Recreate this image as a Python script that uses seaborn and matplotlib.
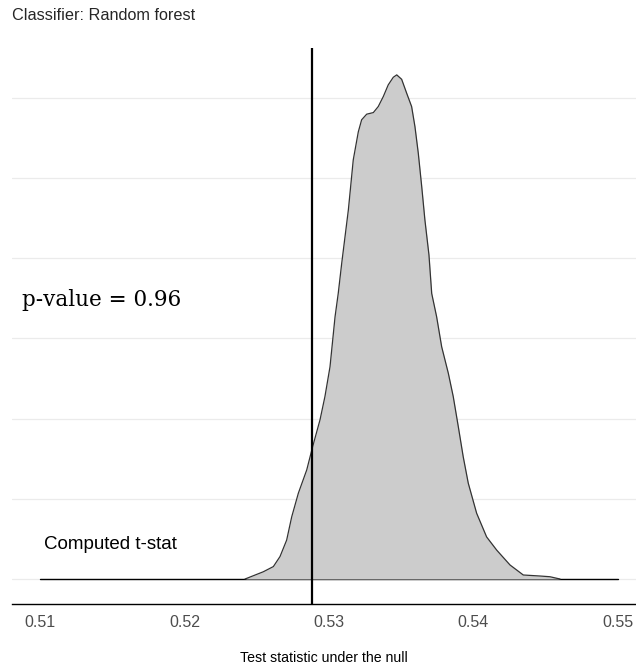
import numpy as np
import pandas as pd
import matplotlib
matplotlib.use("Agg")
import matplotlib.pyplot as plt
import seaborn as sns

# Density curve (x = test statistic, y = density)
stat_x = [0.52419, 0.52545, 0.52615, 0.52661, 0.52707, 0.52742, 0.52788, 0.52846,
          0.52887, 0.52938, 0.52972, 0.53007, 0.53042, 0.53064, 0.53088, 0.53134,
          0.53168, 0.53203, 0.53226, 0.53261, 0.53307, 0.53341, 0.53376, 0.53410,
          0.53445, 0.53469, 0.53503, 0.53538, 0.53572, 0.53595, 0.53618, 0.53642,
          0.53664, 0.53692, 0.53711, 0.53745, 0.53780, 0.53826, 0.53860, 0.53895,
          0.53929, 0.53964, 0.54022, 0.54091, 0.54161, 0.54253, 0.54345, 0.54460,
          0.54529, 0.54599]
density = [0.0, 1.8, 3.1, 5.6, 9.7, 15.5, 21.4, 27.2,
           33.0, 39.7, 45.5, 52.9, 65.4, 71.2, 78.7, 92.0,
           104.5, 111.5, 114.5, 115.9, 116.3, 117.8, 120.3, 123.2,
           125.1, 125.7, 124.6, 121.1, 117.8, 112.8, 106.2, 97.8,
           89.5, 80.8, 71.2, 65.4, 57.9, 51.3, 45.5, 38.0,
           30.5, 23.9, 16.4, 10.5, 7.2, 3.5, 1.0, 0.75,
           0.57, 0.0]

computed_tstat = 0.5288
p_value = 0.96
x_ticks = [0.51, 0.52, 0.53, 0.54, 0.55]
x_tick_labels = ["0.51", "0.52", "0.53", "0.54", "0.55"]
y_grid = [0, 20, 40, 60, 80, 100, 120]
baseline_range = [0.51, 0.55]

title = "Classifier: Random forest"
x_label = "Test statistic under the null"

df = pd.DataFrame({"stat": stat_x, "density": density})

sns.set_theme(style="white")
plt.rcParams["font.family"] = ["Liberation Sans", "DejaVu Sans"]

fig = plt.figure(figsize=(6.36, 6.68), dpi=100)
ax = fig.add_axes([12 / 636, 64 / 668, 1 - 12 / 636, (604 - 48) / 668])

# grid
ax.set_yticks(y_grid)
ax.yaxis.grid(True, color="#ebebeb", linewidth=0.9)
ax.xaxis.grid(False)
ax.set_axisbelow(True)

# baseline
ax.plot(baseline_range, [0, 0], color="black", linewidth=1.0, zorder=2)

# density fill and outline
ax.fill_between(df["stat"], 0, df["density"], color="#cccccc", linewidth=0, zorder=3)
sns.lineplot(data=df, x="stat", y="density", ax=ax, color="#333333",
             linewidth=0.9, zorder=4, sort=False)

# computed t-stat line
ax.axvline(computed_tstat, color="black", linewidth=1.6, zorder=5)

ax.set_xlim(0.50806, 0.55125)
ax.set_ylim(-6.23, 132.4)

ax.set_xticks(x_ticks)
ax.set_xticklabels(x_tick_labels)
ax.tick_params(axis="x", length=0, labelsize=11.5, labelcolor="#4d4d4d", pad=8)
ax.tick_params(axis="y", length=0, labelleft=False)
ax.set_ylabel("")
ax.set_xlabel(x_label, fontsize=10.2, color="black", labelpad=15)

for s in ["top", "right", "left"]:
    ax.spines[s].set_visible(False)
ax.spines["bottom"].set_color("black")
ax.spines["bottom"].set_linewidth(1.0)

ax.text(0.50875, 69.6, f"p-value = {p_value}", family=["DejaVu Serif"],
        fontsize=15.5, ha="left", va="center", color="black")
ax.text(0.5103, 8.7, "Computed t-stat", fontsize=13.5, ha="left", va="center",
        color="black")

fig.text(12 / 636, 1 - 15 / 668, title, fontsize=11.7, ha="left", va="center")

fig.savefig("out.png", dpi=100)
